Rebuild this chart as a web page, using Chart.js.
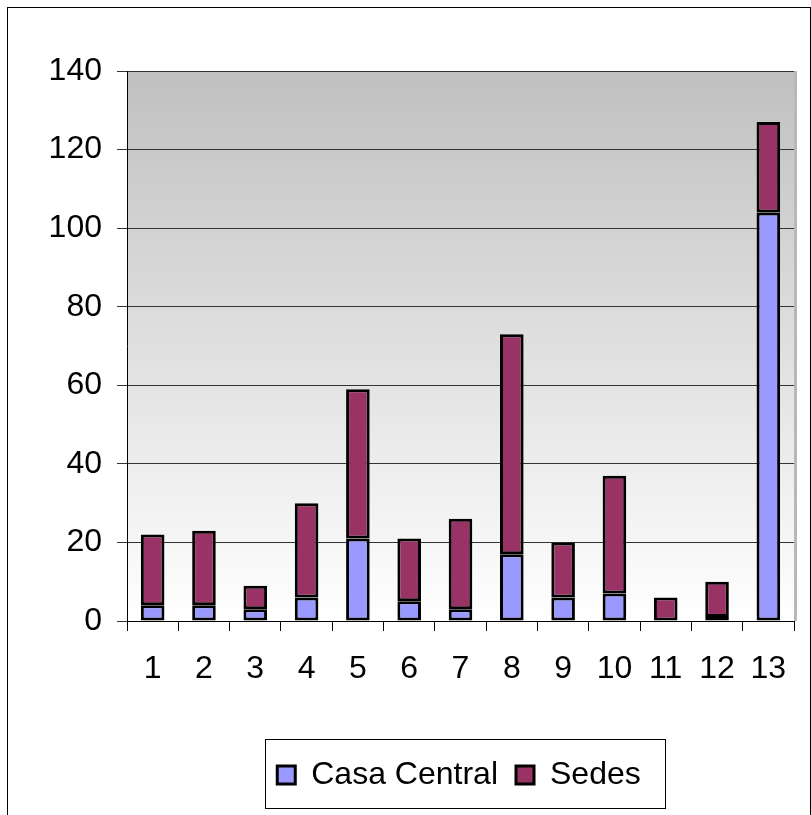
<!DOCTYPE html>
<html>
<head>
<meta charset="utf-8">
<script src="https://cdn.jsdelivr.net/npm/chart.js@4/dist/chart.umd.min.js"></script>
<style>
body{margin:0;background:#fff}
#wrap{width:811px;height:815px}
</style>
</head>
<body>
<div id="wrap"><canvas id="myChart" width="811" height="815"></canvas></div>
<script>
var categorias = ["1","2","3","4","5","6","7","8","9","10","11","12","13"]
var casaCentral = [4,4,3,6,21,5,3,17,6,7,0,1,104]
var sedes = [18,19,6,24,38,16,23,56,14,30,6,9,23]
var yTicks = [0,20,40,60,80,100,120,140]

var fuente = "Arial, 'Liberation Sans', sans-serif"

var fondo = {
  id: "fondo",
  beforeDraw(chart){
    var ctx = chart.ctx
    var a = chart.chartArea
    ctx.save()
    ctx.fillStyle = "#fff"
    ctx.fillRect(0,0,chart.width,chart.height)
    var g = ctx.createLinearGradient(0,a.top,0,a.bottom)
    g.addColorStop(0,"#c0c0c0")
    g.addColorStop(1,"#ffffff")
    ctx.fillStyle = g
    ctx.fillRect(a.left,a.top,a.right-a.left,a.bottom-a.top)
    ctx.strokeStyle = "#b8b8b8"
    ctx.lineWidth = 3
    ctx.beginPath()
    ctx.moveTo(a.right+1.5,a.top)
    ctx.lineTo(a.right+1.5,a.bottom)
    ctx.stroke()
    ctx.strokeStyle = "#000"
    ctx.lineWidth = 1
    ctx.strokeRect(7.5,7.5,803,815)
    ctx.restore()
  },
  afterLayout(chart){
    chart.legend.left += 57
    chart.legend.right += 57
  },
  afterDraw(chart){
    var hb = chart.legend.legendHitBoxes
    if(!hb || !hb.length) return
    var l = hb[0].left, r = hb[hb.length-1].left + hb[hb.length-1].width
    var t = hb[0].top
    var ctx = chart.ctx
    ctx.save()
    ctx.strokeStyle = "#000"
    ctx.lineWidth = 1
    ctx.strokeRect(Math.round(l-12)+0.5, Math.round(t-20)+0.5, Math.round(r-l+37), 69)
    ctx.restore()
  }
}

var myChart = new Chart("myChart",{
  type: "bar",
  data: {
    labels: categorias,
    datasets: [{
      label: "Casa Central",
      data: casaCentral,
      backgroundColor: "#9999ff",
      borderColor: "#000",
      borderWidth: 3,
      borderSkipped: false
    },{
      label: "Sedes",
      data: sedes,
      backgroundColor: "#993366",
      borderColor: "#000",
      borderWidth: 3,
      borderSkipped: false
    }]
  },
  options: {
    responsive: false,
    animation: false,
    datasets: { bar: { barPercentage: 0.46, categoryPercentage: 1 } },
    layout: { padding: { left: 10, right: 17, top: 71, bottom: 14 } },
    plugins: {
      tooltip: { enabled: false },
      legend: {
        position: "bottom",
        labels: {
          color: "#000",
          font: { family: fuente, size: 32 },
          boxWidth: 18,
          boxHeight: 18,
          padding: 18
        }
      }
    },
    scales: {
      x: {
        stacked: true,
        offset: true,
        grid: { offset: true, drawOnChartArea: false, tickLength: 10, color: "#000" },
        border: { color: "#000" },
        ticks: { color: "#000", font: { family: fuente, size: 32 }, padding: 19 },
        afterFit(s){ s.height = 120 }
      },
      y: {
        stacked: true,
        min: 0,
        max: 140,
        afterBuildTicks(s){ s.ticks = yTicks.map(function(v){ return {value:v} }) },
        grid: { color: "#333", tickLength: 10 },
        border: { color: "#000" },
        ticks: { color: "#000", font: { family: fuente, size: 32 }, padding: 15 },
        afterFit(s){ s.width = 117 }
      }
    }
  },
  plugins: [fondo]
})
</script>
</body>
</html>
